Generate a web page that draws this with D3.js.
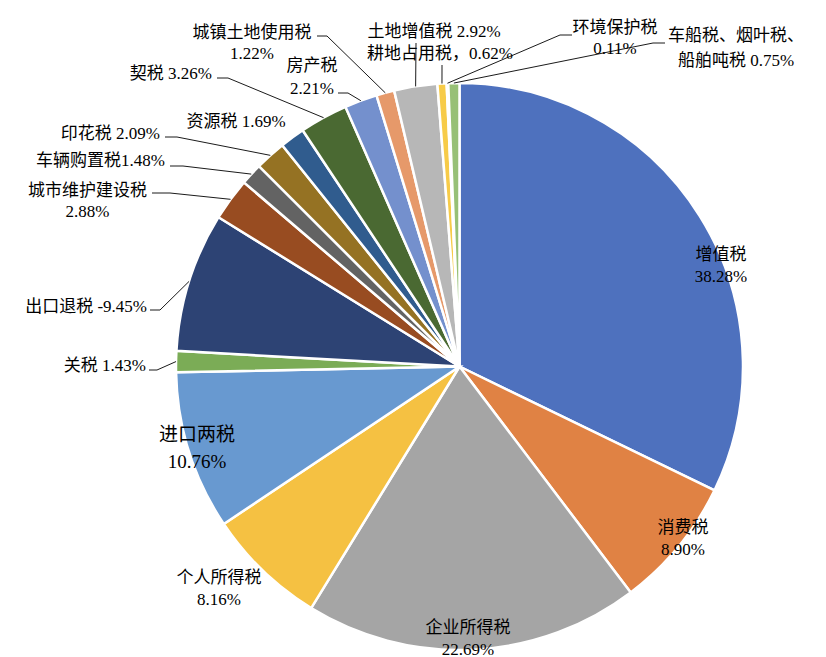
<!DOCTYPE html>
<html>
<head>
<meta charset="utf-8">
<script src="https://cdn.jsdelivr.net/npm/d3@7"></script>
<style>
  html, body { margin: 0; padding: 0; background: #fff; }
  text { font-family: "Liberation Serif", "Noto Sans CJK SC", serif; fill: #000; }
</style>
</head>
<body>
<div class="chart"></div>
<script>
// tax categories, clockwise from 12 o'clock
var categories = ["增值税", "消费税", "企业所得税", "个人所得税", "进口两税", "关税", "出口退税",
  "城市维护建设税", "车辆购置税", "印花税", "资源税", "契税", "房产税", "城镇土地使用税",
  "土地增值税", "耕地占用税", "环境保护税", "车船税、烟叶税、船舶吨税"];

// share of revenue, %
var values = [38.28, 8.90, 22.69, 8.16, 10.76, 1.43, -9.45, 2.88, 1.48, 2.09, 1.69, 3.26,
  2.21, 1.22, 2.92, 0.62, 0.11, 0.75];

var colors = ["#4e71be", "#e08244", "#a5a5a5", "#f5c142", "#6899d0", "#7bac56", "#2d4374",
  "#984c21", "#636363", "#957223", "#305c8e", "#4a6932", "#7490cd", "#e6996a",
  "#b7b7b7", "#f7cb48", "#7cafdd", "#97c076"];

// label placement (Excel-style, hand placed). leader = [startX, startY, elbowX]
var labelLayout = [
  {x: 721, y: 254, fmt: "split"},
  {x: 683, y: 527, fmt: "split"},
  {x: 468, y: 627, fmt: "split"},
  {x: 219, y: 577, fmt: "split"},
  {x: 197, y: 434, fmt: "split", size: 19, lh: 27},
  {x: 146, y: 365, fmt: "inline", anchor: "end", leader: [149, 370, 157]},
  {x: 147, y: 306, fmt: "inline", anchor: "end", leader: [150, 310, 160]},
  {x: 87.5, y: 190, fmt: "split", lh: 21, leader: [152, 193, 170]},
  {x: 165, y: 160, fmt: "tight", anchor: "end", leader: [170, 166, 183]},
  {x: 160, y: 133, fmt: "inline", anchor: "end", leader: [165, 137, 177]},
  {x: 236, y: 121, fmt: "inline"},
  {x: 212, y: 73, fmt: "inline", anchor: "end", leader: [217, 78, 228]},
  {x: 312, y: 65, fmt: "split", lh: 23, leader: [338, 93, 348]},
  {x: 252, y: 32, fmt: "split", lh: 21, leader: [317, 36, 327]},
  {x: 434, y: 31, fmt: "inline", leader: [416, 43, 416]},
  {x: 440, y: 53, fmt: "comma", leader: [442, 65, 442]},
  {x: 615, y: 27, fmt: "split", lh: 21, leader: [572, 35, 560]},
  {x: 736, y: 35, fmt: "wrap", brk: 8, lh: 25, leader: [665, 43, 653]}
];

function labelLines(name, v, o) {
  var pct = v.toFixed(2) + "%";
  if (o.fmt == "split") return [name, pct];
  if (o.fmt == "tight") return [name + pct];
  if (o.fmt == "comma") return [name + "，" + pct];
  if (o.fmt == "wrap") return [name.slice(0, o.brk), name.slice(o.brk) + " " + pct];
  return [name + " " + pct];
}

var width = 826, height = 657;
var cx = 459.5, cy = 366.5, radius = 283.5;

var svg = d3.select(".chart")
  .append("svg")
    .attr("width", width)
    .attr("height", height);

var data = categories.map(function(c, i) {
  return {name: c, value: values[i], color: colors[i], layout: labelLayout[i]};
});

// slices are sized by absolute value (export rebate is negative)
var pie = d3.pie()
    .sort(null)
    .value(function(d) { return Math.abs(d.value); });

var arc = d3.arc().innerRadius(0).outerRadius(radius);
var edge = d3.arc().innerRadius(radius).outerRadius(radius);

var arcs = pie(data);

var g = svg.append("g")
    .attr("transform", "translate(" + cx + "," + cy + ")");

g.selectAll("path.slice")
    .data(arcs)
    .enter()
    .append("path")
      .attr("class", "slice")
      .attr("d", arc)
      .style("fill", function(d) { return d.data.color; })
      .style("stroke", "#fff")
      .style("stroke-width", 2.5);

// leader lines
svg.selectAll("polyline.leader")
    .data(arcs.filter(function(d) { return d.data.layout.leader; }))
    .enter()
    .append("polyline")
      .attr("class", "leader")
      .attr("points", function(d) {
        var l = d.data.layout.leader;
        var p = edge.centroid(d);
        return [[l[0], l[1]], [l[2], l[1]], [cx + p[0], cy + p[1]]].join(" ");
      })
      .style("fill", "none")
      .style("stroke", "#000")
      .style("stroke-width", 0.9);

// labels
var labels = svg.selectAll("text.label")
    .data(arcs)
    .enter()
    .append("text")
      .attr("class", "label")
      .attr("text-anchor", function(d) { return d.data.layout.anchor || "middle"; })
      .style("font-size", function(d) { return (d.data.layout.size || 17) + "px"; });

labels.each(function(d) {
  var o = d.data.layout;
  var lh = o.lh || 22;
  d3.select(this).selectAll("tspan")
    .data(labelLines(d.data.name, d.data.value, o))
    .enter()
    .append("tspan")
      .attr("x", o.x)
      .attr("y", function(t, i) { return o.y + i * lh; })
      .attr("dy", "0.36em")
      .text(function(t) { return t; });
});
</script>
</body>
</html>
